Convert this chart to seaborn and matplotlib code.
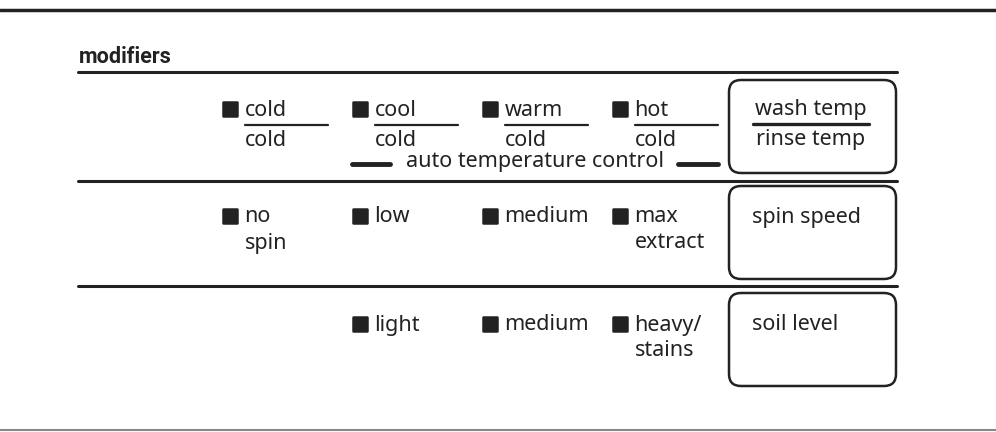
import matplotlib
matplotlib.use("Agg")
import matplotlib.pyplot as plt
from matplotlib.patches import FancyBboxPatch
from matplotlib.markers import MarkerStyle
import pandas as pd
import seaborn as sns

# panel content
title = "modifiers"
wash_top = ["cold", "cool", "warm", "hot"]
wash_bottom = ["cold", "cold", "cold", "cold"]
auto_label = "auto temperature control"
spin_opts = ["no\nspin", "low", "medium", "max\nextract"]
soil_opts = ["", "light", "medium", "heavy/\nstains"]
box_labels = ["wash temp", "spin speed", "soil level"]
rinse_label = "rinse temp"

ink = "#222222"
fsize = 15.5

sns.set_style("white")
plt.rcParams["font.family"] = ["Noto Sans", "DejaVu Sans"]

fig = plt.figure(figsize=(9.96, 4.32), dpi=100)
ax = fig.add_axes([0, 0, 1, 1])

col_x0, col_step = 229.5, 130
row_y = [109, 216, 324]
box_top = [80, 186, 293]
rule_y = [72, 181, 286]

# indicator squares, one per option
rows = [wash_top, spin_opts, soil_opts]
recs = []
for r, opts in enumerate(rows):
    for c, lab in enumerate(opts):
        if lab:
            recs.append({"x": col_x0 + col_step * c, "y": row_y[r], "label": lab})
df = pd.DataFrame(recs)
sq = MarkerStyle("s", joinstyle="round")
sns.scatterplot(data=df, x="x", y="y", marker=sq, s=110, color=ink,
                edgecolor=ink, linewidth=1.8, ax=ax, legend=False, zorder=3)
ax.set_xlim(0, 996)
ax.set_ylim(432, 0)
ax.axis("off")

# option labels
for rec in recs:
    lines = rec["label"].split("\n")
    for i, line in enumerate(lines):
        ax.text(rec["x"] + 15, rec["y"] + 1 + 26 * i, line, fontsize=fsize,
                color=ink, va="center", ha="left")

# wash / rinse fractions
for c, (top, bot) in enumerate(zip(wash_top, wash_bottom)):
    x = col_x0 + col_step * c
    ax.plot([x + 15, x + 98], [125, 125], color=ink, lw=1.6)
    ax.text(x + 15, 140, bot, fontsize=fsize, color=ink, va="center", ha="left")

ax.text(535, 162, auto_label, fontsize=fsize, color=ink, va="center", ha="center")
ax.plot([352, 390], [164, 164], color=ink, lw=3.5)
ax.plot([678, 718], [164, 164], color=ink, lw=3.5)

# rules
ax.plot([0, 996], [10, 10], color=ink, lw=2.5)
ax.plot([0, 996], [430, 430], color="#888888", lw=1.5)
for y in rule_y:
    ax.plot([78, 897], [y, y], color=ink, lw=2.2)
ax.text(79, 57, title, fontsize=15.5, fontweight="bold", color=ink,
        va="center", ha="left", family=["Roboto", "DejaVu Sans"])

# right-hand boxes
for r, lab in enumerate(box_labels):
    ax.add_patch(FancyBboxPatch((729, box_top[r]), 167, 93,
                                boxstyle="round,pad=0,rounding_size=12",
                                fill=False, ec=ink, lw=1.8))
    if r == 0:
        ax.text(811, 110, lab, fontsize=fsize, color=ink, va="center", ha="center")
        ax.plot([753, 869], [124, 124], color=ink, lw=2.4)
        ax.text(811, 140, rinse_label, fontsize=fsize, color=ink,
                va="center", ha="center")
    else:
        ax.text(752, box_top[r] + 32, lab, fontsize=fsize, color=ink,
                va="center", ha="left")

fig.savefig("out.png", dpi=100)
